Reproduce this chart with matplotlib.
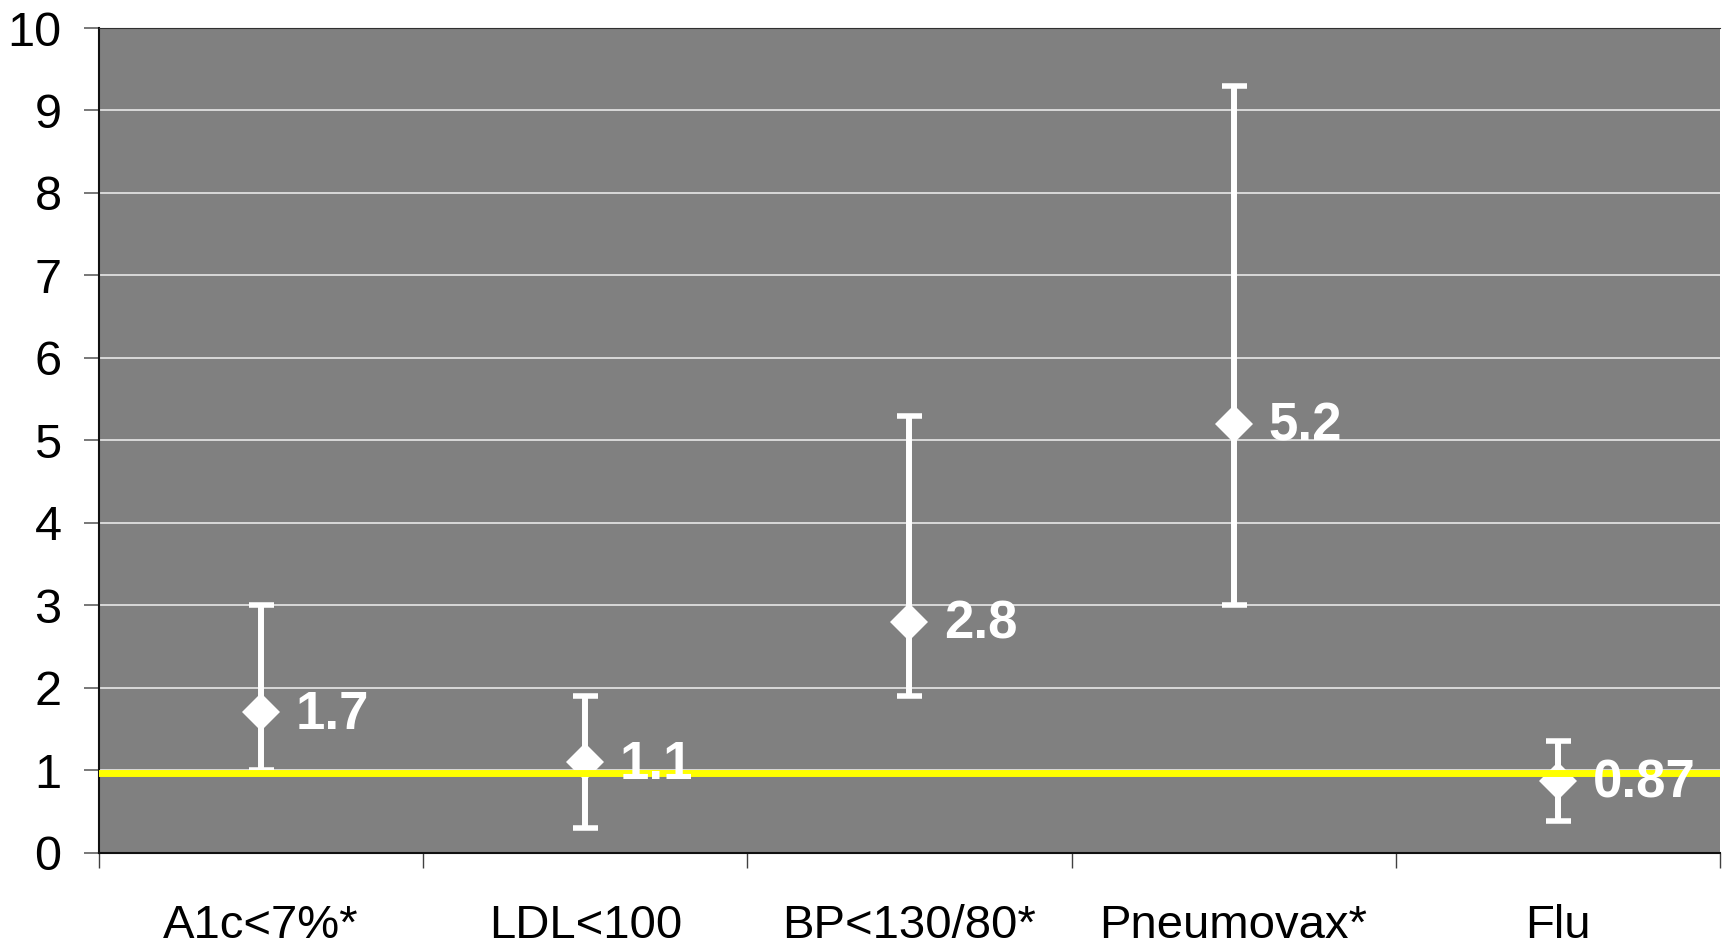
import numpy as np
import matplotlib.pyplot as plt
from matplotlib.ticker import FixedLocator

plt.rcParams['font.family'] = ['Liberation Sans', 'DejaVu Sans']

# odds ratios with confidence intervals
categories = ['A1c<7%*', 'LDL<100', 'BP<130/80*', 'Pneumovax*', 'Flu']
odds = [1.7, 1.1, 2.8, 5.2, 0.87]
ci_low = [1.0, 0.3, 1.9, 3.0, 0.38]
ci_high = [3.0, 1.9, 5.3, 9.3, 1.35]
labels = ['1.7', '1.1', '2.8', '5.2', '0.87']
ref_line = 0.96

x = np.arange(len(categories))
odds_a = np.array(odds)
yerr = [odds_a - np.array(ci_low), np.array(ci_high) - odds_a]

fig = plt.figure(figsize=(17.25, 9.5), dpi=100)
ax = fig.add_axes([0.0574, 0.1025, 0.9396, 0.868])
ax.set_facecolor('#808080')

ax.set_xlim(-0.5, len(categories) - 0.5)
ax.set_ylim(0, 10)
ax.set_yticks(range(0, 11))
ax.yaxis.grid(True, color='#e8e8e8', linewidth=1.2)
ax.set_axisbelow(True)

ax.errorbar(x, odds, yerr=yerr, fmt='none', ecolor='white', elinewidth=4.3,
            capsize=9, capthick=4, zorder=3)
ax.plot(x, odds, linestyle='none', marker='D', markersize=19, color='white',
        markeredgewidth=0, zorder=4)

ax.axhline(ref_line, color='#ffff00', linewidth=5, zorder=5)

for xi, yi, lab in zip(x, odds, labels):
    ax.annotate(lab, (xi, yi), xytext=(25, -2), textcoords='offset points',
                ha='left', va='center', color='white', fontsize=38,
                fontweight='bold', zorder=6)

ax.set_xticks(x)
ax.set_xticklabels(categories, fontsize=34)
ax.tick_params(axis='x', which='major', length=0, pad=37)
ax.xaxis.set_minor_locator(FixedLocator(np.arange(-0.5, len(categories), 1.0)))
ax.tick_params(axis='x', which='minor', length=11, width=1, color='#404040')
ax.tick_params(axis='y', labelsize=35, length=11, width=1.2, color='#606060', pad=16)

for s in ['left', 'bottom']:
    ax.spines[s].set_color('#101010')
    ax.spines[s].set_linewidth(1.5)
ax.spines['top'].set_color('#303030')
ax.spines['right'].set_visible(False)

fig.savefig('out.png', dpi=100)
